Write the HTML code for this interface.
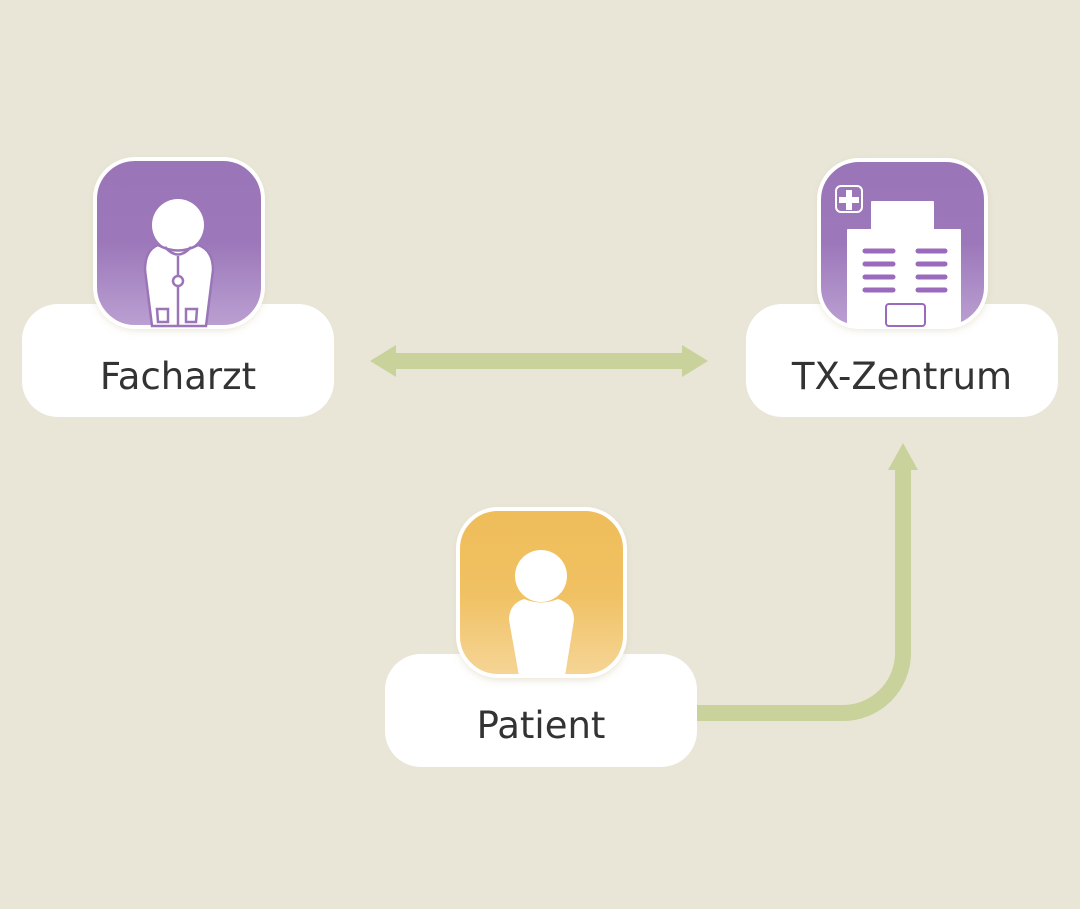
<!DOCTYPE html>
<html><head><meta charset="utf-8"><style>
html,body{margin:0;padding:0;background:#e9e6d8;}
svg{display:block;}
text{font-family:"DejaVu Sans","Liberation Sans",sans-serif;font-size:37px;fill:#333;}
</style></head><body>
<svg width="1080" height="909" viewBox="0 0 1080 909" xmlns="http://www.w3.org/2000/svg">
<defs>
<linearGradient id="pg" x1="0" y1="0" x2="0" y2="1">
<stop offset="0" stop-color="#9a76b8"/><stop offset="0.5" stop-color="#9c78ba"/><stop offset="1" stop-color="#bba0d2"/></linearGradient>
<linearGradient id="yg" x1="0" y1="0" x2="0" y2="1">
<stop offset="0" stop-color="#efbd5a"/><stop offset="0.5" stop-color="#f0c162"/><stop offset="1" stop-color="#f5d597"/></linearGradient>
<filter id="sh" x="-20%" y="-20%" width="140%" height="140%"><feGaussianBlur stdDeviation="4"/></filter>
</defs>
<rect x="393" y="353" width="292" height="16" fill="#c8d29a"/>
<polygon points="370,361 396,345 396,377" fill="#c8d29a"/>
<polygon points="708,361 682,345 682,377" fill="#c8d29a"/>
<path d="M697,713 H843 A60,60 0 0 0 903,653 V468" fill="none" stroke="#c8d29a" stroke-width="16"/>
<polygon points="903,443 888,470 918,470" fill="#c8d29a"/>
<rect x="22" y="304" width="312" height="113" rx="36" fill="#fff"/>
<rect x="746" y="304" width="312" height="113" rx="36" fill="#fff"/>
<rect x="385" y="654" width="312" height="113" rx="36" fill="#fff"/>
<text x="178" y="389" text-anchor="middle">Facharzt</text>
<text x="902" y="389" text-anchor="middle">TX-Zentrum</text>
<text x="541" y="738" text-anchor="middle">Patient</text>
<rect x="94" y="160" width="170" height="170" rx="42" fill="#d8d2b8" opacity="0.6" filter="url(#sh)"/>
<rect x="95" y="159" width="168" height="168" rx="40" fill="url(#pg)" stroke="#fff" stroke-width="4"/>
<circle cx="178" cy="225" r="26" fill="#fff"/>
<path d="M158,245 Q145,250 145,270 L152,326 L206,326 L213,270 Q213,250 198,245 Q178,256 158,245 Z" fill="#fff" stroke="#9a76b8" stroke-width="2.5"/>
<path d="M165,247 Q178,262 191,247" fill="none" stroke="#9a76b8" stroke-width="2.5"/>
<line x1="178" y1="256" x2="178" y2="275" stroke="#9a76b8" stroke-width="2.5"/>
<circle cx="178" cy="281" r="5" fill="#fff" stroke="#9a76b8" stroke-width="2.5"/>
<line x1="178" y1="286" x2="178" y2="326" stroke="#9a76b8" stroke-width="2.5"/>
<path d="M157,309 L168,309 L168,322 L158,322 Z" fill="none" stroke="#9a76b8" stroke-width="2.5"/>
<path d="M186,309 L197,309 L196,322 L186,322 Z" fill="none" stroke="#9a76b8" stroke-width="2.5"/>
<rect x="818" y="160" width="170" height="170" rx="42" fill="#d8d2b8" opacity="0.6" filter="url(#sh)"/>
<rect x="819" y="160" width="167" height="167" rx="40" fill="url(#pg)" stroke="#fff" stroke-width="4"/>
<rect x="836" y="186" width="26" height="26" rx="5" fill="none" stroke="#fff" stroke-width="2"/>
<path d="M846,190 h6 v7 h7 v6 h-7 v7 h-6 v-7 h-7 v-6 h7 z" fill="#fff"/>
<path d="M872,202 h61 v28 h27 v96 h-112 v-96 h24 z" fill="#fff" stroke="#fff" stroke-width="2" stroke-linejoin="round"/>
<g stroke="#9a6abd" stroke-width="5" stroke-linecap="round">
<line x1="865" y1="251" x2="893" y2="251"/><line x1="918" y1="251" x2="945" y2="251"/>
<line x1="865" y1="264" x2="893" y2="264"/><line x1="918" y1="264" x2="945" y2="264"/>
<line x1="865" y1="277" x2="893" y2="277"/><line x1="918" y1="277" x2="945" y2="277"/>
<line x1="865" y1="290" x2="893" y2="290"/><line x1="918" y1="290" x2="945" y2="290"/>
</g>
<rect x="886" y="304" width="39" height="22" rx="3" fill="#fff" stroke="#9a6abd" stroke-width="2"/>
<rect x="457" y="510" width="170" height="170" rx="42" fill="#d8d2b8" opacity="0.6" filter="url(#sh)"/>
<rect x="458" y="509" width="167" height="167" rx="40" fill="url(#yg)" stroke="#fff" stroke-width="4"/>
<circle cx="541" cy="576" r="26" fill="#fff"/>
<path d="M524,599 Q541,606 558,599 Q574,604 574,620 L565,676 L519,676 L509,620 Q509,604 524,599 Z" fill="#fff"/>
</svg>
</body></html>
